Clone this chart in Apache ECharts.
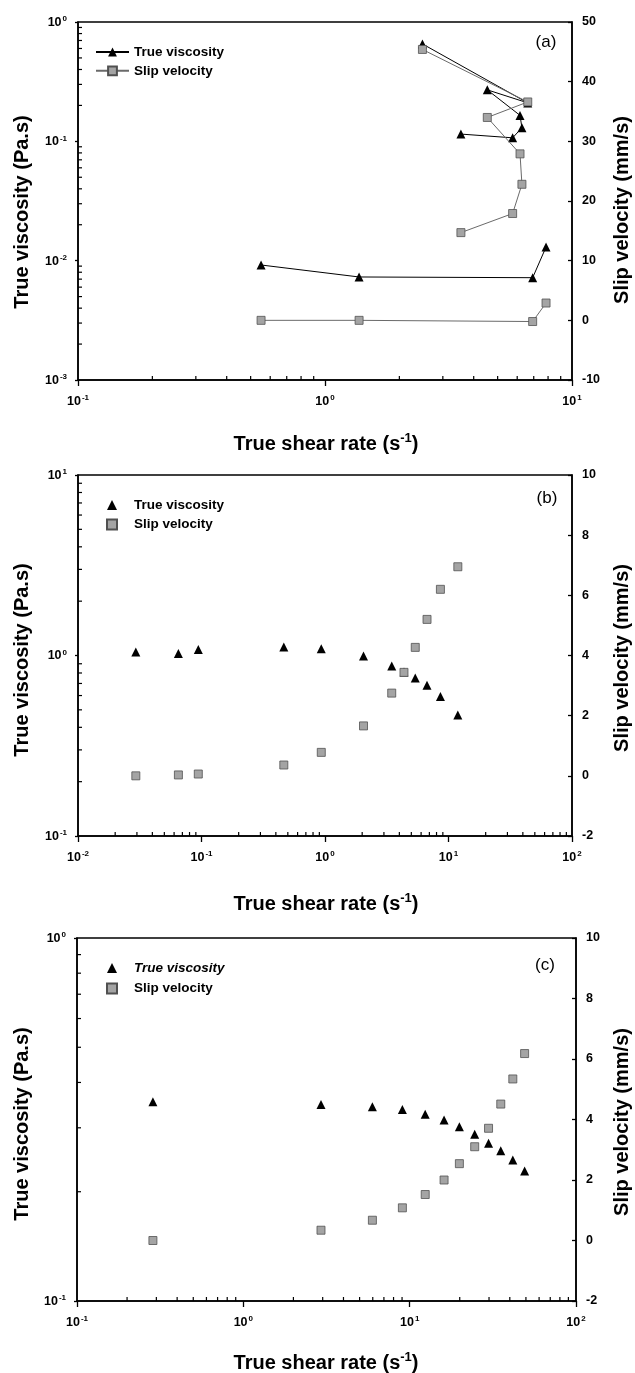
<!DOCTYPE html>
<html><head><meta charset="utf-8">
<script src="https://cdn.jsdelivr.net/npm/echarts@6.0.0/dist/echarts.min.js"></script>
<style>html,body{margin:0;padding:0;background:#fff}#c{width:635px;height:1373px}</style>
</head><body><div id="c"></div>
<script>
// ---------- data ----------
// Panel (a): two branches of the same data set
const aShear1 = [0.551, 1.374, 6.93, 7.85];
const aVisc1  = [0.0092, 0.0073, 0.0072, 0.013];
const aSlip1  = [0, 0, -0.2, 2.9];
const aShear2 = [2.48, 6.62, 4.54, 6.16, 6.27, 5.75, 3.55];
const aVisc2  = [0.655, 0.21, 0.27, 0.165, 0.130, 0.107, 0.115];
const aSlip2  = [45.4, 36.6, 34.0, 27.9, 22.8, 17.9, 14.7];
// Panel (b)
const bShear = [0.0294, 0.065, 0.0942, 0.464, 0.933, 2.05, 3.47, 4.36, 5.38, 6.70, 8.6, 11.9];
const bVisc  = [1.045, 1.025, 1.08, 1.115, 1.09, 0.995, 0.875, 0.81, 0.75, 0.685, 0.593, 0.468];
const bSlip  = [0.0, 0.03, 0.06, 0.36, 0.78, 1.66, 2.75, 3.44, 4.27, 5.2, 6.2, 6.95];
// Panel (c)
const cShear = [0.286, 2.93, 5.97, 9.04, 12.4, 16.1, 19.9, 24.6, 29.8, 35.3, 41.7, 49.1];
const cVisc  = [0.354, 0.348, 0.343, 0.337, 0.327, 0.315, 0.302, 0.288, 0.272, 0.2595, 0.2445, 0.228];
const cSlip  = [0.0, 0.34, 0.67, 1.08, 1.52, 2.0, 2.54, 3.1, 3.71, 4.51, 5.34, 6.18];

const seriesLabels = ['True viscosity', 'Slip velocity'];
const panelLabels = ['(a)', '(b)', '(c)'];
const xTitle = 'True shear rate (s';
const xTitleSup = '-1';
const yLeftTitle = 'True viscosity (Pa.s)';
const yRightTitle = 'Slip velocity (mm/s)';
const minorMults = [2, 3, 4, 5, 6, 7, 8, 9];

// axis ranges per panel
const xRanges = [[0.1, 10], [0.01, 100], [0.1, 100]];
const yLRanges = [[0.001, 1], [0.1, 10], [0.1, 1]];
const yRRanges = [[-10, 50, 10], [-2, 10, 2], [-2, 10, 2]];

// ---------- layout ----------
const FF = '"Liberation Sans", Arial, Helvetica, sans-serif';
const grids = [
  {left: 78, top: 22, width: 494, height: 358},
  {left: 78, top: 475, width: 494, height: 361},
  {left: 77, top: 938, width: 499, height: 363}
];
const zip = (xs, ys) => xs.map((x, i) => [x, ys[i]]);

const logRich = {
  b: {fontSize: 12.5, fontWeight: 'bold', fontFamily: FF, color: '#000', lineHeight: 14, verticalAlign: 'bottom'},
  s: {fontSize: 8, fontWeight: 'bold', fontFamily: FF, color: '#000', lineHeight: 14, verticalAlign: 'top', padding: [0, 0, 0, 1]}
};
const logFmt = v => '{b|10}{s|' + Math.round(Math.log10(v)) + '}';
const lineCol = '#000';

const xAxes = [], yAxes = [];
grids.forEach((g, i) => {
  xAxes.push({
    type: 'log', logBase: 10, gridIndex: i, position: 'bottom', min: xRanges[i][0], max: xRanges[i][1],
    axisLine: {onZero: false, lineStyle: {color: lineCol, width: 1.5}},
    axisTick: {show: true, inside: false, length: 6, lineStyle: {color: lineCol, width: 1.3}},
    axisLabel: {formatter: logFmt, rich: logRich, margin: 14},
    splitLine: {show: false}, minorTick: {show: false}
  });
  yAxes.push({
    type: 'log', logBase: 10, gridIndex: i, position: 'left', min: yLRanges[i][0], max: yLRanges[i][1],
    axisLine: {onZero: false, lineStyle: {color: lineCol, width: 1.5}},
    axisTick: {show: true, inside: false, length: 3, lineStyle: {color: lineCol, width: 1.3}},
    axisLabel: {formatter: logFmt, rich: logRich, margin: 11},
    splitLine: {show: false}
  });
  yAxes.push({
    type: 'value', gridIndex: i, position: 'right',
    min: yRRanges[i][0], max: yRRanges[i][1], interval: yRRanges[i][2],
    axisLine: {show: true, onZero: false, lineStyle: {color: lineCol, width: 1.5}},
    axisTick: {show: true, inside: true, length: 4, lineStyle: {color: lineCol, width: 1.3}},
    axisLabel: {color: '#000', fontSize: 12.5, fontWeight: 'bold', fontFamily: FF, margin: 10},
    splitLine: {show: false}
  });
});

function minorTickSeries(i) {
  const data = [];
  const [x0, x1] = xRanges[i], [y0, y1] = yLRanges[i];
  for (let e = Math.round(Math.log10(x0)); e < Math.round(Math.log10(x1)); e++)
    minorMults.forEach(m => data.push([m * Math.pow(10, e), y0, 0]));
  for (let e = Math.round(Math.log10(y0)); e < Math.round(Math.log10(y1)); e++)
    minorMults.forEach(m => data.push([x0, m * Math.pow(10, e), 1]));
  return {
    type: 'custom', xAxisIndex: i, yAxisIndex: 2 * i, data: data, silent: true, z: 6,
    renderItem: (params, api) => {
      const p = api.coord([api.value(0), api.value(1)]);
      const horiz = api.value(2) === 1;
      return {
        type: 'line',
        shape: horiz ? {x1: p[0], y1: p[1], x2: p[0] + 4, y2: p[1]}
                     : {x1: p[0], y1: p[1], x2: p[0], y2: p[1] - 4},
        style: {stroke: '#000', lineWidth: 1.2}
      };
    }
  };
}

const triStyle = {color: '#000', opacity: 1};
const sqStyle = {color: '#a4a4a4', borderColor: '#505050', borderWidth: 0.8, opacity: 1};
const series = [
  {name: 'a:' + seriesLabels[0], type: 'line', xAxisIndex: 0, yAxisIndex: 0, data: zip(aShear1, aVisc1),
   symbol: 'triangle', symbolSize: 9, itemStyle: triStyle, lineStyle: {color: '#000', width: 1}, z: 3},
  {name: 'a:' + seriesLabels[0], type: 'line', xAxisIndex: 0, yAxisIndex: 0, data: zip(aShear2, aVisc2),
   symbol: 'triangle', symbolSize: 9, itemStyle: triStyle, lineStyle: {color: '#000', width: 1}, z: 3},
  {name: 'a:' + seriesLabels[1], type: 'line', xAxisIndex: 0, yAxisIndex: 1, data: zip(aShear1, aSlip1),
   symbol: 'rect', symbolSize: 8, itemStyle: sqStyle, lineStyle: {color: '#6a6a6a', width: 1}, z: 4},
  {name: 'a:' + seriesLabels[1], type: 'line', xAxisIndex: 0, yAxisIndex: 1, data: zip(aShear2, aSlip2),
   symbol: 'rect', symbolSize: 8, itemStyle: sqStyle, lineStyle: {color: '#6a6a6a', width: 1}, z: 4},
  {name: 'b:' + seriesLabels[0], type: 'scatter', xAxisIndex: 1, yAxisIndex: 2, data: zip(bShear, bVisc),
   symbol: 'triangle', symbolSize: 9, itemStyle: triStyle, z: 3},
  {name: 'b:' + seriesLabels[1], type: 'scatter', xAxisIndex: 1, yAxisIndex: 3, data: zip(bShear, bSlip),
   symbol: 'rect', symbolSize: 8, itemStyle: sqStyle, z: 4},
  {name: 'c:' + seriesLabels[0], type: 'scatter', xAxisIndex: 2, yAxisIndex: 4, data: zip(cShear, cVisc),
   symbol: 'triangle', symbolSize: 9, itemStyle: triStyle, z: 3},
  {name: 'c:' + seriesLabels[1], type: 'scatter', xAxisIndex: 2, yAxisIndex: 5, data: zip(cShear, cSlip),
   symbol: 'rect', symbolSize: 8, itemStyle: sqStyle, z: 4},
  minorTickSeries(0), minorTickSeries(1), minorTickSeries(2)
];

const legendText = {fontSize: 13.5, fontWeight: 'bold', fontFamily: FF, color: '#000'};
const legFmt = n => n.slice(2);
const legendTops = [45, 498, 961];
const legendGaps = [4.8, 4.5, 5.5];
const legends = ['a', 'b', 'c'].map((p, i) => {
  const isLine = i === 0;
  return {
    left: isLine ? 95 : 106, top: legendTops[i], orient: 'vertical',
    itemWidth: isLine ? 33 : 10, itemHeight: isLine ? 11 : 10, itemGap: legendGaps[i] + (isLine ? 0 : 1),
    symbolKeepAspect: true,
    padding: 0, formatter: legFmt, selectedMode: false,
    textStyle: Object.assign({}, legendText, isLine ? {} : {padding: [0, 0, 0, 12]}),
    data: [
      i === 2 ? {name: p + ':' + seriesLabels[0], textStyle: {fontStyle: 'italic'}} : p + ':' + seriesLabels[0],
      p + ':' + seriesLabels[1]
    ]
  };
});

const graphics = [];
const labelPos = [[546, 42], [547, 498], [545, 965]];
const xTitleY = [443, 903, 1362];
const yTitleY = [212, 660, 1124];
grids.forEach((g, i) => {
  graphics.push({type: 'text', x: labelPos[i][0], y: labelPos[i][1],
    style: {text: panelLabels[i], fontSize: 17, fontFamily: FF, fill: '#000', textAlign: 'center', textVerticalAlign: 'middle', align: 'center', verticalAlign: 'middle'}});
  graphics.push({type: 'text', x: 326, y: xTitleY[i],
    style: {text: '{t|' + xTitle + '}{s|' + xTitleSup + '}{t|)}', fill: '#000',
      rich: {t: {fontSize: 20, fontWeight: 'bold', fontFamily: FF, lineHeight: 22, verticalAlign: 'bottom'},
             s: {fontSize: 13, fontWeight: 'bold', fontFamily: FF, lineHeight: 22, verticalAlign: 'top'}},
      textAlign: 'center', textVerticalAlign: 'middle', align: 'center', verticalAlign: 'middle'}});
  graphics.push({type: 'text', x: 22, y: yTitleY[i], rotation: Math.PI / 2,
    style: {text: yLeftTitle, fontSize: 20, fontWeight: 'bold', fontFamily: FF, fill: '#000',
      textAlign: 'center', textVerticalAlign: 'middle', align: 'center', verticalAlign: 'middle'}});
  graphics.push({type: 'text', x: 622, y: yTitleY[i] - 2, rotation: Math.PI / 2,
    style: {text: yRightTitle, fontSize: 20, fontWeight: 'bold', fontFamily: FF, fill: '#000',
      textAlign: 'center', textVerticalAlign: 'middle', align: 'center', verticalAlign: 'middle'}});
});

const chart = echarts.init(document.getElementById('c'), null, {renderer: 'canvas'});
chart.setOption({
  animation: false,
  backgroundColor: '#fff',
  grid: grids.map(g => Object.assign({show: true, borderColor: '#000', borderWidth: 1.5, backgroundColor: 'transparent', containLabel: false}, g)),
  xAxis: xAxes,
  yAxis: yAxes,
  legend: legends,
  series: series,
  graphic: graphics
});
</script></body></html>
